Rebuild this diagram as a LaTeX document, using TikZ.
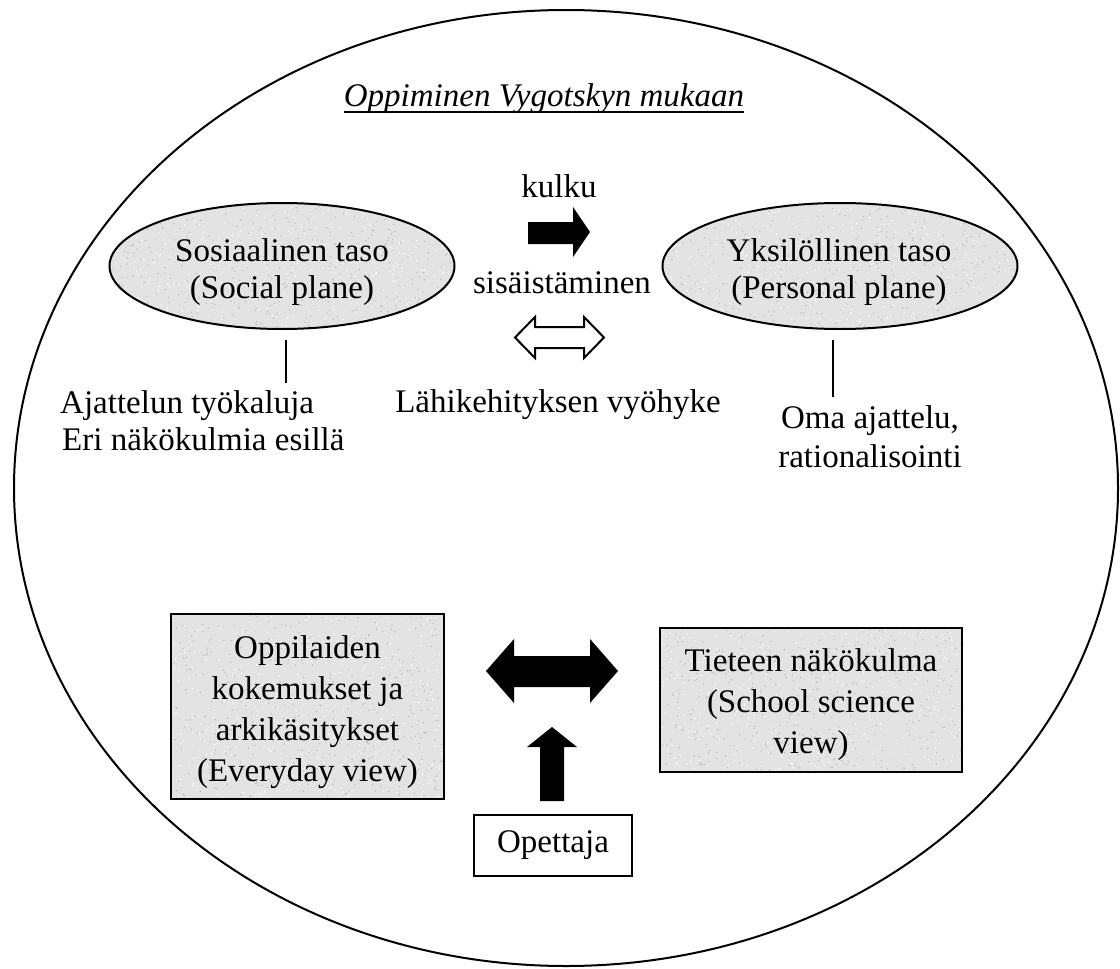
\documentclass[tikz,border=0pt]{standalone}
\usepackage{fontspec}
\setmainfont{Liberation Serif}
\usetikzlibrary{shapes.geometric,calc}
\definecolor{grain}{gray}{0.89}
\definecolor{fleck}{gray}{0.72}
\tikzset{
  every node/.style={font=\fontsize{33}{37}\selectfont, inner sep=0pt},
  frame/.style={line width=2pt},
  grainy/.style={path picture={
      \foreach \k in {1,...,650}{
        \fill[fleck] ($(path picture bounding box.center)+(rand*185,rand*100)$) circle (0.75pt);
        \fill[white] ($(path picture bounding box.center)+(rand*185,rand*100)$) circle (0.75pt);
      }}},
  plane/.style={ellipse, draw, line width=2pt, fill=grain, grainy, minimum height=126pt},
  card/.style={rectangle, draw, line width=2pt, fill=grain, grainy},
  cardtext/.style={align=center, font=\fontsize{33}{41}\selectfont},
  planetext/.style={align=center},
  solidarrow/.style={fill=black},
  hollowarrow/.style={draw, fill=white, line width=2pt, line join=miter},
}
\begin{document}
\begin{tikzpicture}[x=1pt,y=-1pt]
\pgfmathsetseed{4242}
\useasboundingbox (0,0) rectangle (1120,969);

% outer frame
\draw[frame] (566,488) ellipse [x radius=552, y radius=478];

% heading
\node[anchor=base, font=\fontsize{33}{37}\selectfont\itshape] (title) at (544,106) {Oppiminen Vygotskyn mukaan};
\draw[line width=2pt] ([yshift=-6pt]title.base west) -- ([yshift=-6pt]title.base east);

% the two planes
\node[plane, minimum width=345pt] (soc) at (282,266) {};
\node[planetext] (soctext) at (282,272) {Sosiaalinen taso\\(Social plane)};
\node[plane, minimum width=355pt] (pers) at (840,266) {};
\node[planetext] (perstext) at (839,272) {Yksilöllinen taso\\(Personal plane)};

% middle labels
\node[anchor=base] (kulku) at (559,197) {kulku};
\node[anchor=base] (sis) at (562,293) {sisäistäminen};
\node[anchor=base] (lahi) at (558,412) {Lähikehityksen vyöhyke};

% flow arrow
\fill[solidarrow] (528,222) -- (573,222) -- (573,207) -- (590,232) -- (573,257)
  -- (573,244) -- (528,244) -- cycle;
% zone arrow (outlined, two-headed)
\draw[hollowarrow] (515,337.5) -- (535,317) -- (535,327) -- (584,327) -- (584,317)
  -- (604,337.5) -- (584,358) -- (584,348) -- (535,348) -- (535,358) -- cycle;

% notes under the planes
\node[anchor=base west] (ajat1) at (60,413) {Ajattelun työkaluja};
\node[anchor=base west] (ajat2) at (62,450) {Eri näkökulmia esillä};
\node[anchor=base] (oma1) at (870,428) {Oma ajattelu,};
\node[anchor=base] (oma2) at (870,467) {rationalisointi};
\coordinate (socfoot) at (286,383);
\coordinate (persfoot) at (833,397);
\draw[frame] ([xshift=4pt,yshift=-10pt]soc.south) -- (socfoot);
\draw[frame] ([xshift=-7pt,yshift=-10pt]pers.south) -- (persfoot);

% lower part: views and teacher
\node[card, minimum width=273pt, minimum height=185pt] (every) at (307.5,706.5) {};
\node[cardtext] (everytext) at (307.5,712) {Oppilaiden\\kokemukset ja\\arkikäsitykset\\(Everyday view)};
\node[card, minimum width=302pt, minimum height=144pt] (school) at (811,700) {};
\node[cardtext] (schooltext) at (811,705) {Tieteen näkökulma\\(School science\\view)};
\node[draw, frame, minimum width=158pt, minimum height=61pt] (teacher) at (553,845.5) {Opettaja};

% exchange arrow between the views
\fill[solidarrow] (486,671) -- (514,639) -- (514,656) -- (590,656) -- (590,639)
  -- (618,671) -- (590,703) -- (590,687) -- (514,687) -- (514,703) -- cycle;
% teacher arrow
\fill[solidarrow] (552,727) -- (577,747) -- (564,747) -- (564,801) -- (540,801)
  -- (540,747) -- (527,747) -- cycle;
\end{tikzpicture}
\end{document}
